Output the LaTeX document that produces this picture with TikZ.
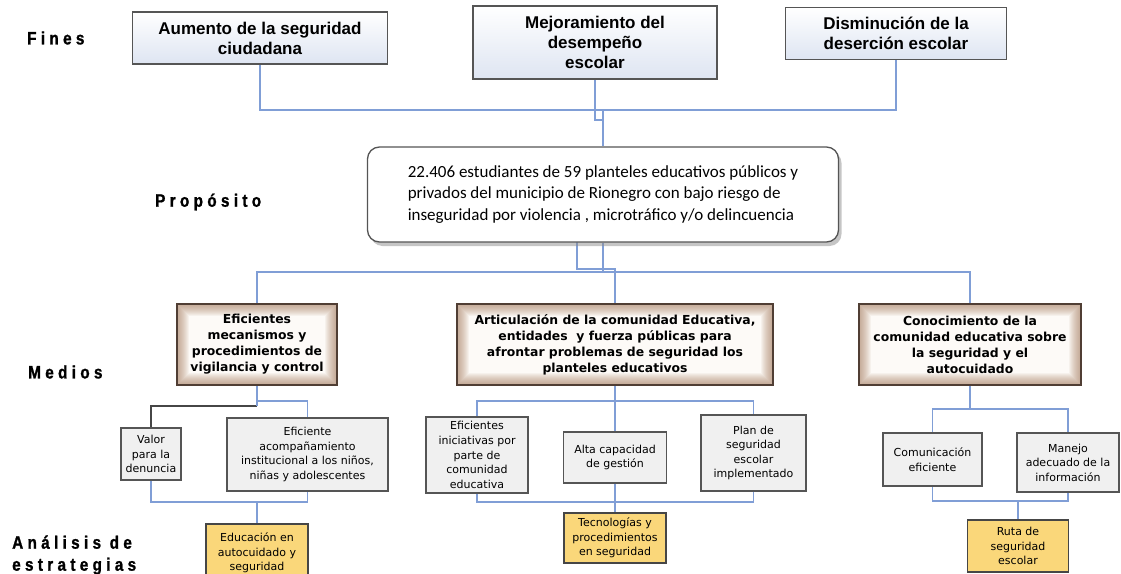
\documentclass[tikz,border=0pt]{standalone}
\usepackage{fontspec}
\setmainfont{Liberation Sans}
\newfontfamily\lblfont[FakeStretch=0.85,LetterSpace=24,FakeBold=1.2]{Liberation Sans}
\newfontfamily\calfont{Carlito}
\newfontfamily\dvfont{DejaVu Sans}
\usetikzlibrary{shadows,backgrounds}
\definecolor{conn}{RGB}{128,158,214}
\definecolor{darkc}{RGB}{70,70,70}
\definecolor{boxborder}{RGB}{85,85,85}
\definecolor{finblue}{RGB}{222,229,242}
\definecolor{glowin}{RGB}{253,250,247}
\definecolor{glowout}{RGB}{160,115,85}
\definecolor{medborder}{RGB}{80,62,52}
\definecolor{subfill}{RGB}{240,240,240}
\definecolor{yelfill}{RGB}{250,215,122}
\tikzset{
  conn/.style={draw=conn, line width=1.4pt},
  darkconn/.style={draw=darkc, line width=1.4pt},
  finbox/.style={draw=boxborder, line width=1.3pt, top color=white, bottom color=finblue, inner sep=0pt, align=center, font=\bfseries\fontsize{17}{20}\selectfont},
  purpbox/.style={draw=boxborder, line width=1.3pt, fill=white, rounded corners=12pt, inner sep=0pt, align=left, drop shadow={shadow xshift=3pt, shadow yshift=-4pt, fill=black!45}, font=\calfont\fontsize{17}{21.5}\selectfont},
  medbox/.style={draw=medborder, line width=1.3pt, fill=glowin, inner sep=0pt, align=center, font=\dvfont\bfseries\fontsize{12.4}{16}\selectfont,
    path picture={
      \foreach \w in {2,4,...,24}
        \draw[draw=glowout, line width=\w pt, draw opacity=0.065] (path picture bounding box.south west) rectangle (path picture bounding box.north east);
    }},
  subbox/.style={draw=boxborder, line width=1.2pt, fill=subfill, inner sep=0pt, align=center, font=\dvfont\fontsize{11}{14.6}\selectfont},
  yelbox/.style={draw=darkc, line width=1.2pt, fill=yelfill, inner sep=0pt, align=center, font=\dvfont\fontsize{11}{14.6}\selectfont},
  lbl/.style={inner sep=0pt, align=left, font=\lblfont\bfseries\fontsize{18}{22}\selectfont}
}
\begin{document}
\begin{tikzpicture}[x=1pt,y=-1pt]
\useasboundingbox (0,0) rectangle (1121,573);

% labels
\node[lbl, anchor=west] (lfines) at (27,38) {Fines};
\node[lbl, anchor=west] (lprop) at (155,202) {Propósito};
\node[lbl, anchor=west] (lmed) at (28,372) {Medios};
\node[lbl, anchor=west] (lanal) at (12,555) {Análisis de\\estrategias};

% Fines
\node[finbox, minimum width=255pt, minimum height=52pt] (f1) at (260,38) {Aumento de la seguridad\\ciudadana};
\node[finbox, minimum width=244pt, minimum height=73pt] (f2) at (595,42.5) {Mejoramiento del\\desempeño\\escolar};
\node[finbox, minimum width=221pt, minimum height=52pt] (f3) at (896,33.5) {Disminución de la\\deserción escolar};

% Proposito
\node[purpbox, minimum width=471pt, minimum height=95pt] (p) at (603,194.5) {22.406 estudiantes de 59 planteles educativos públicos y\\privados del municipio de Rionegro con bajo riesgo de\\inseguridad por violencia , microtráfico y/o delincuencia};

% Medios
\node[medbox, minimum width=160pt, minimum height=81pt] (m1) at (257,344.5) {Eficientes\\mecanismos y\\procedimientos de\\vigilancia y control};
\node[medbox, minimum width=316pt, minimum height=81pt] (m2) at (615,344.5) {Articulación de la comunidad Educativa,\\entidades\ \ y fuerza públicas para\\afrontar problemas de seguridad los\\planteles educativos};
\node[medbox, minimum width=222pt, minimum height=81pt] (m3) at (970,344.5) {Conocimiento de la\\comunidad educativa sobre\\la seguridad y el\\autocuidado};

% Sub boxes
\node[subbox, minimum width=60pt, minimum height=52pt] (s1) at (151,454) {Valor\\para la\\denuncia};
\node[subbox, minimum width=161pt, minimum height=73pt] (s2) at (307.5,454.5) {Eficiente\\acompañamiento\\institucional a los niños,\\niñas y adolescentes};
\node[subbox, minimum width=102pt, minimum height=76pt] (s3) at (477,455) {Eficientes\\iniciativas por\\parte de\\comunidad\\educativa};
\node[subbox, minimum width=103pt, minimum height=51pt] (s4) at (615,457.5) {Alta capacidad\\de gestión};
\node[subbox, minimum width=105pt, minimum height=76pt] (s5) at (753.5,453) {Plan de\\seguridad\\escolar\\implementado};
\node[subbox, minimum width=99pt, minimum height=53pt] (s6) at (932.5,459.5) {Comunicación\\eficiente};
\node[subbox, minimum width=102pt, minimum height=59pt] (s7) at (1068,462.5) {Manejo\\adecuado de la\\información};

% Strategy boxes
\node[yelbox, minimum width=102pt, minimum height=58pt] (y1) at (257,553) {Educación en\\autocuidado y\\seguridad};
\node[yelbox, minimum width=102pt, minimum height=50pt] (y2) at (615,538) {Tecnologías y\\procedimientos\\en seguridad};
\node[yelbox, minimum width=101pt, minimum height=52pt] (y3) at (1018,546) {Ruta de\\seguridad\\escolar};

% coordinates
\coordinate (j1) at (603,110);
\coordinate (j2) at (603,120);
\coordinate (h1) at (257,272);
\coordinate (h2) at (970,272);
\coordinate (pl) at (577,238);
\coordinate (k1) at (615,269);
\coordinate (c1) at (257,406);
\coordinate (c2) at (257,401);
\coordinate (e1) at (257,502);
\coordinate (t2) at (615,401);
\coordinate (u2) at (615,502);
\coordinate (t3) at (970,409);
\coordinate (u3) at (1018,501);

\begin{pgfonlayer}{background}
\draw[conn] (f1.south) |- (j1);
\draw[conn] (f3.south) |- (j1);
\draw[conn] (f2.south) |- (j2);
\draw[conn] (j1) -- (p.north);
\draw[conn] (p.south) -- (p.south |- h1);
\draw[conn] (m1.north) -- (h1) -- (h2) -- (m3.north);
\draw[conn] (pl) |- (k1) -- (m2.north);
\draw[darkconn] (c1) -| (s1.north);
\draw[conn] (m1.south) -- (c1);
\draw[conn] (c2) -| (s2.north);
\draw[conn] (s1.south) |- (e1) -| (s2.south);
\draw[conn] (e1) -- (y1.north);
\draw[conn] (s3.north) |- (t2) -| (s5.north);
\draw[conn] (m2.south) -- (t2) -- (s4.north);
\draw[conn] (s3.south) |- (u2) -| (s5.south);
\draw[conn] (s4.south) -- (u2) -- (y2.north);
\draw[conn] (s6.north) |- (t3) -| (s7.north);
\draw[conn] (m3.south) -- (t3);
\draw[conn] (s6.south) |- (u3) -| (s7.south);
\draw[conn] (u3) -- (y3.north);
\end{pgfonlayer}
\end{tikzpicture}
\end{document}
